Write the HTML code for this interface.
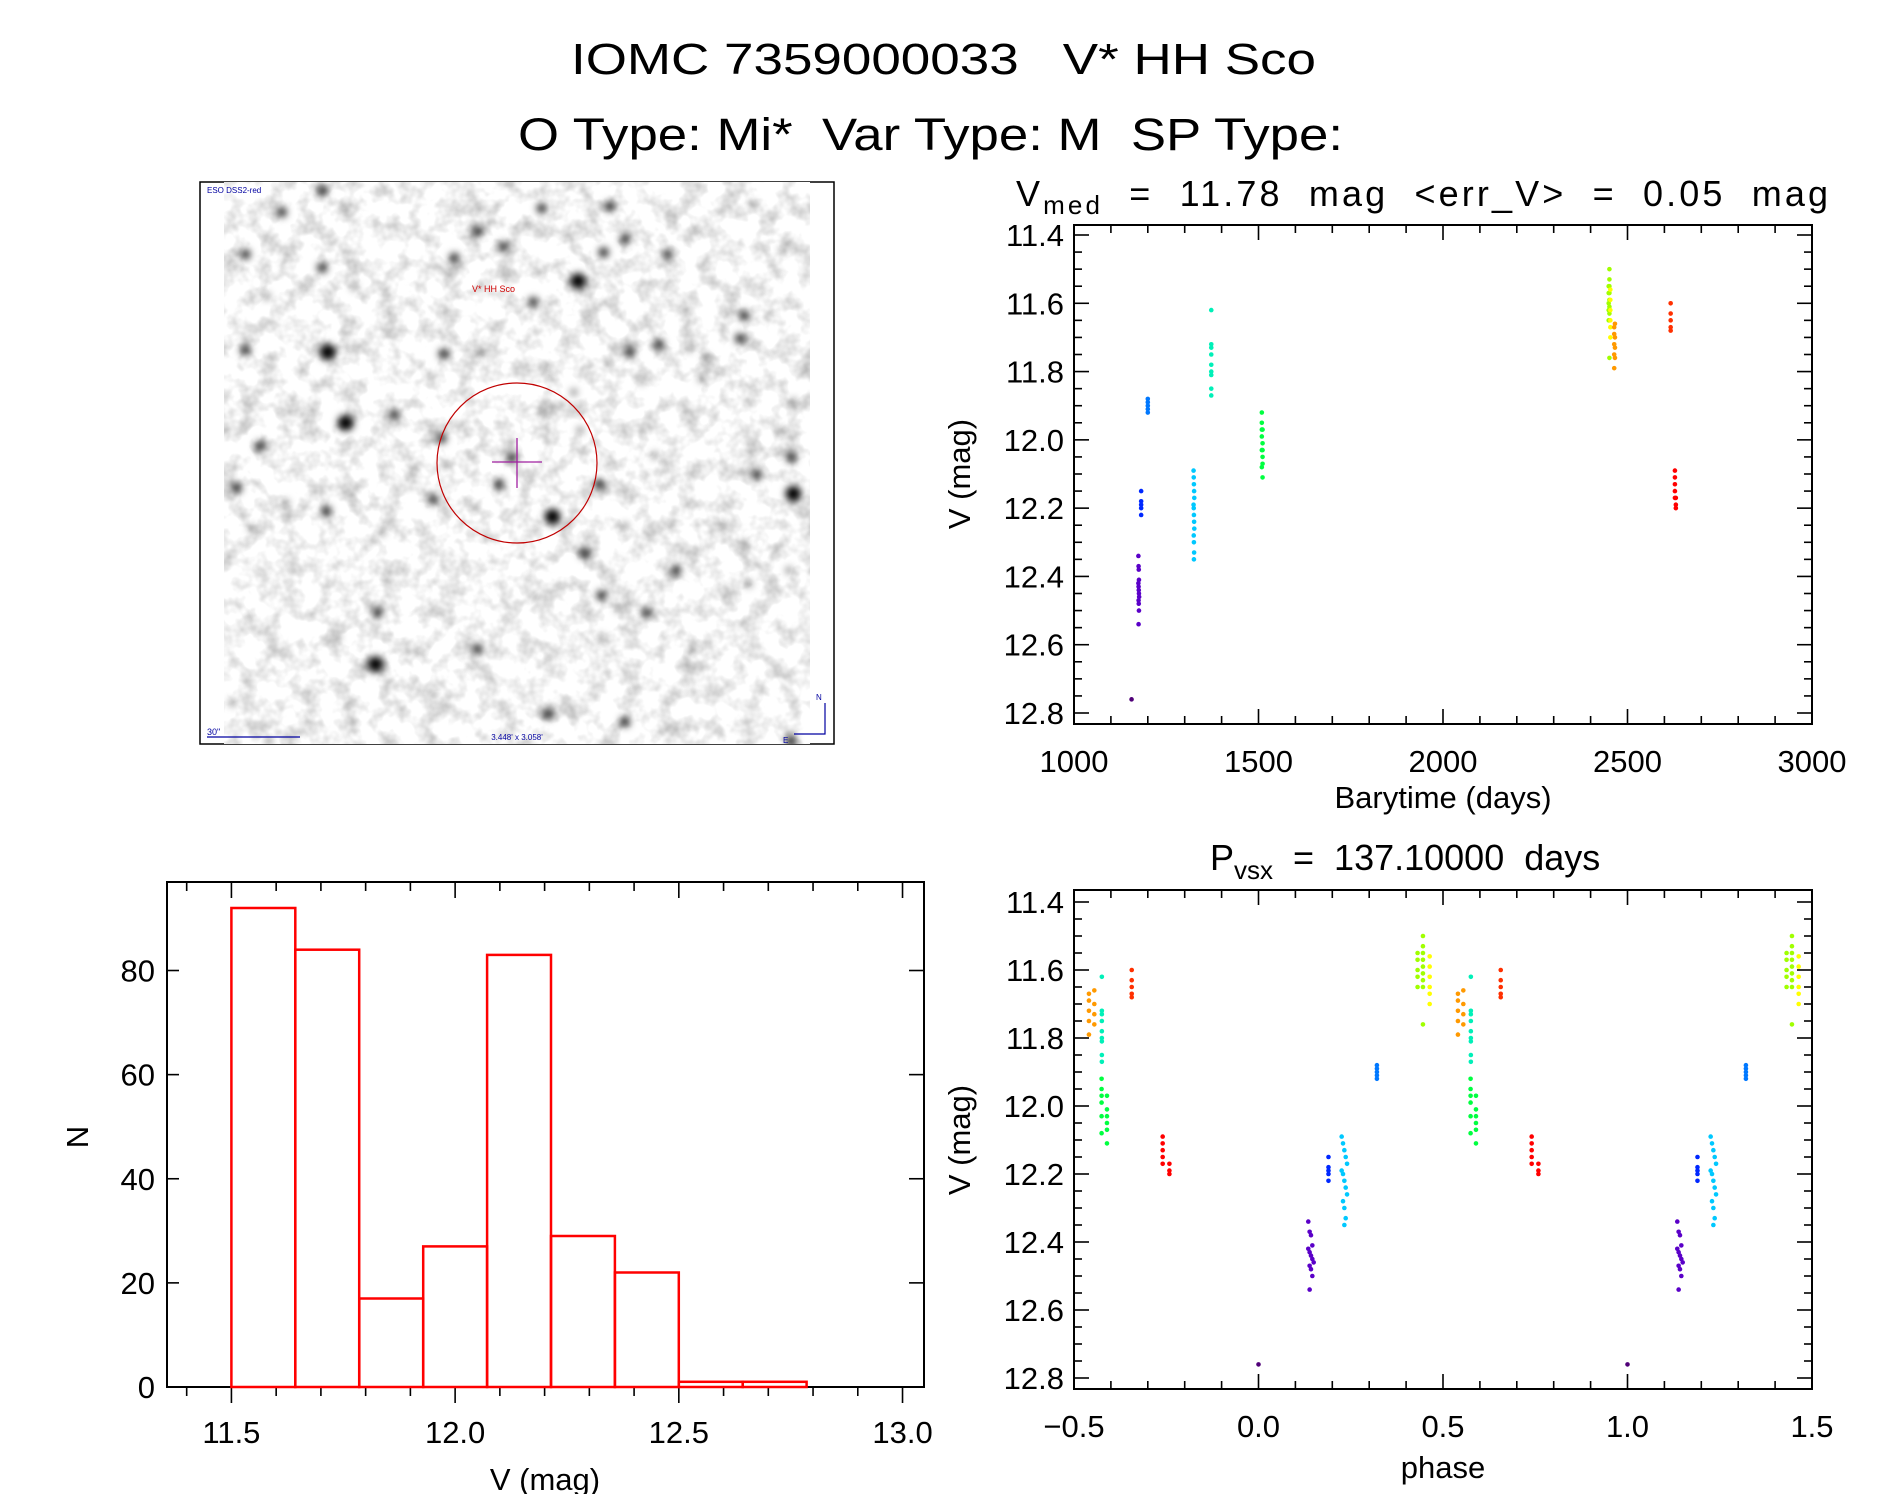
<!DOCTYPE html>
<html><head><meta charset="utf-8"><style>
html,body{margin:0;padding:0;background:#fff;}
svg{display:block;font-family:"Liberation Sans",sans-serif;}
</style></head><body>
<svg id="root" width="1889" height="1494" viewBox="0 0 1889 1494" xmlns="http://www.w3.org/2000/svg">
<defs>
<filter id="mottle" x="0" y="0" width="100%" height="100%">
<feTurbulence type="fractalNoise" baseFrequency="0.05" numOctaves="3" seed="7"/>
<feColorMatrix type="matrix" values="0 0 0 0 0.3  0 0 0 0 0.3  0 0 0 0 0.3  1.3 0 0 0 -0.55"/>
</filter>
<filter id="blur" x="-100%" y="-100%" width="300%" height="300%"><feGaussianBlur stdDeviation="3.6"/></filter>
<clipPath id="imgclip"><rect x="224" y="182" width="586" height="562"/></clipPath>
</defs>
<text x="571" y="74" font-size="44" textLength="745" lengthAdjust="spacingAndGlyphs" xml:space="preserve">IOMC 7359000033   V* HH Sco</text>
<text x="518" y="150" font-size="45" textLength="825" lengthAdjust="spacingAndGlyphs" xml:space="preserve">O Type: Mi*  Var Type: M  SP Type:</text>

<g>
<rect x="200" y="182" width="634" height="562" fill="#fff" stroke="#000" stroke-width="1.5"/>
<rect x="224" y="182" width="586" height="562" fill="#fff"/>
<rect x="224" y="182" width="586" height="562" filter="url(#mottle)"/>
<g id="stars" clip-path="url(#imgclip)"></g>
<ellipse cx="517" cy="463" rx="80" ry="80" fill="none" stroke="#c00000" stroke-width="1.2"/>
<line x1="492" y1="462" x2="542" y2="462" stroke="#a020a0" stroke-width="1.3"/>
<line x1="517" y1="438" x2="517" y2="488" stroke="#a020a0" stroke-width="1.3"/>
<text x="472" y="292" font-size="9" fill="#d00000">V* HH Sco</text>
<text x="207" y="193" font-size="8" fill="#0000a0">ESO DSS2-red</text>
<text x="207" y="735" font-size="9" fill="#0000a0">30"</text>
<line x1="207" y1="737" x2="300" y2="737" stroke="#0000a0" stroke-width="1.2"/>
<text x="517" y="740" font-size="8" fill="#0000a0" text-anchor="middle">3.448' x 3.058'</text>
<polyline points="825,703 825,734 794,734" fill="none" stroke="#0000a0" stroke-width="1.2"/>
<text x="816" y="700" font-size="8" fill="#0000a0">N</text>
<text x="783" y="743" font-size="8" fill="#0000a0">E</text>
</g>

<g id="p1"></g>
<g id="p2"></g>
<g id="p3"></g>
</svg>
<script>
// ---- data ----
const period = 137.1;
const epoch = 1156;
const seriesColors = ["#500078","#5a00c8","#0028ff","#0078ff","#00c8ff","#00f0b8","#00ff40","#a0ff00","#ffff00","#ff9900","#ff3000","#ff0000"];
const obsTime = [1156,
 1174.5,1175,1175.5,1176,1174.5,1175,1175.5,1176,1176.5,1175,1175.5,1176,1175,
 1182,1182,1182,1182,1182,
 1200,1200,1200,1200,1200,
 1324,1324.5,1325,1325.5,1326,1324,1324.5,1325,1325.5,1326,1324.5,1325,1325.5,1325,
 1372,1372,1372,1372,1372,1372,1372,1372,1372,
 1509,1509,1509,1509,1509,1509,1511,1511,1511,1511,1511,1511,
 2449,2449,2449,2449,2449,2451,2451,2451,2451,2451,2451,2451,2451,2451,
 2453.5,2453.5,2453.5,2453.5,2453.5,2453.5,
 2464,2464,2464,2464,2464,2466,2466,2466,2466,
 2617,2617,2617,2617,2617,
 2628.5,2628.5,2628.5,2628.5,2628.5,2631,2631,2631];
const obsMag = [12.76,
 12.34,12.37,12.38,12.41,12.42,12.43,12.44,12.45,12.46,12.47,12.48,12.50,12.54,
 12.15,12.18,12.19,12.20,12.22,
 11.88,11.89,11.90,11.91,11.92,
 12.09,12.11,12.13,12.15,12.17,12.19,12.20,12.22,12.24,12.26,12.28,12.30,12.33,12.35,
 11.62,11.72,11.73,11.75,11.78,11.80,11.81,11.85,11.87,
 11.92,11.95,11.97,11.99,12.03,12.08,11.97,12.01,12.03,12.05,12.07,12.11,
 11.55,11.57,11.60,11.62,11.65,11.50,11.53,11.55,11.57,11.59,11.61,11.63,11.65,11.76,
 11.56,11.59,11.62,11.65,11.67,11.70,
 11.67,11.69,11.72,11.75,11.79,11.66,11.70,11.73,11.76,
 11.60,11.63,11.65,11.67,11.68,
 12.09,12.11,12.13,12.15,12.17,12.17,12.19,12.20];
const obsColor = [0,
 1,1,1,1,1,1,1,1,1,1,1,1,1,
 2,2,2,2,2,
 3,3,3,3,3,
 4,4,4,4,4,4,4,4,4,4,4,4,4,4,
 5,5,5,5,5,5,5,5,5,
 6,6,6,6,6,6,6,6,6,6,6,6,
 7,7,7,7,7,7,7,7,7,7,7,7,7,7,
 8,8,8,8,8,8,
 9,9,9,9,9,9,9,9,9,
 10,10,10,10,10,
 11,11,11,11,11,11,11,11];
const histEdgeStart = 11.5;
const histBinWidth = 0.14286;
const histCounts = [92,84,17,27,83,29,22,1,1];
const lcYTicks = [11.4,11.6,11.8,12.0,12.2,12.4,12.6,12.8];
const lcXTicks = [1000,1500,2000,2500,3000];
const phXTicks = [-0.5,0.0,0.5,1.0,1.5];
const hiXTicks = [11.5,12.0,12.5,13.0];
const hiYTicks = [0,20,40,60,80];

const NS = "http://www.w3.org/2000/svg";
function mk(tag, attrs, parent){
  const e = document.createElementNS(NS, tag);
  for (const k in attrs) e.setAttribute(k, attrs[k]);
  parent.appendChild(e);
  return e;
}
function scale(d0,d1,r0,r1){ return v => r0 + (v-d0)/(d1-d0)*(r1-r0); }

// ---- stars in image ----
const starG = document.getElementById('stars');
const starList = [[910,290,3],[323,475,3],[850,905,3],[1415,845,3],[1330,795,2],[960,820,2],[620,230,2],[130,220,2],[310,255,2],[675,160,2],[825,100,2],[985,95,2],[1020,180,2],[970,215,2],[1120,220,2],[1390,210,1],[805,345,2],[595,480,2],[130,470,2],[365,660,3],[480,640,2],[165,720,2],[590,700,2],[755,750,2],[725,820,2],[600,770,1],[110,830,2],[570,860,2],[1100,455,2],[1030,475,2],[1170,465,1],[1290,440,2],[1210,490,1],[1060,550,1],[1200,545,1],[1300,380,2],[925,1000,2],[1020,930,1],[1140,1045,2],[1405,1045,1],[1300,975,1],[965,1110,2],[1005,1145,1],[1070,1155,2],[440,1155,2],[675,1250,2],[435,1290,3],[840,1420,2],[1020,1440,2],[965,1220,1],[1410,750,2],[1385,680,1],[1090,745,1],[810,1115,1],[145,935,1],[320,890,2],[450,945,1],[225,870,1],[1250,925,1],[1180,1250,1],[1310,1080,1],[1415,605,1],[385,305,1],[180,330,1],[900,580,1],[685,480,1],[215,110,2],[310,55,2],[1320,90,1],[1410,1490,2],[185,1490,1],[345,1220,1],[100,1390,1],[570,1370,1],[680,100,1],[735,200,2],[825,630,1],[915,680,1]];
starList.forEach(s=>{
  const c = mk('circle',{cx:(190+s[0]/2.345).toFixed(1), cy:(170+s[1]/2.61).toFixed(1), r:[0,3.5,5.2,8][s[2]], fill:'#000', 'fill-opacity':[0,0.55,0.85,1][s[2]], filter:'url(#blur)'}, starG);
  
  
});

// ---- generic axes ----
function frame(g, L,R,T,B){
  const r = mk('rect',{x:L,y:T,width:R-L,height:B-T,fill:'none',stroke:'#000','stroke-width':2},g);
  
  
}
function tickLine(g,x1,y1,x2,y2,name){
  const l = mk('line',{x1,y1,x2,y2,stroke:'#000','stroke-width':1.6},g);
  
  
}
function label(g,x,y,txt,anchor,size,name,rot){
  const t = mk('text',{x,y,'font-size':size,'text-anchor':anchor,fill:'#000'},g);
  if(rot) t.setAttribute('transform','rotate(-90 '+x+' '+y+')');
  t.textContent = txt;
  
  
  return t;
}

function lcAxes(g, L,R,T,B, sx, sy, xTicks, xMinorStep, xLabelFmt, xMin, xMax){
  frame(g,L,R,T,B);
  const n = Math.round((xMax-xMin)/xMinorStep);
  for (let i = 0; i <= n; i++){
    const v = xMin + i*xMinorStep;
    const x = sx(v);
    const isMajor = xTicks.some(t=>Math.abs(t-v)<1e-6);
    const len = isMajor?15:8;
    tickLine(g,x,B,x,B-len,'x-tick');
    tickLine(g,x,T,x,T+len,'x-tick-top');
  }
  xTicks.forEach(v=>label(g,sx(v),B+48,xLabelFmt(v),'middle',31,'x-tick-label'));
  for (let i=0;i<=28;i++){
    const v = 11.4 + i*0.05;
    const y = sy(v);
    const isMajor = i%4===0;
    const len = isMajor?15:8;
    tickLine(g,L,y,L+len,y,'y-tick');
    tickLine(g,R,y,R-len,y,'y-tick-right');
  }
  lcYTicks.forEach(v=>label(g,L-10,sy(v)+11,v.toFixed(1),'end',31,'y-tick-label'));
}

function drawPoints(g, sx, sy, phaseMode){
  for (let i=0;i<obsTime.length;i++){
    let xs;
    if (phaseMode){
      let ph = ((obsTime[i]-epoch)/period) % 1;
      if (ph<0) ph+=1;
      xs = [ph-1, ph, ph+1].filter(p=>p>=-0.5&&p<=1.5);
    } else xs = [obsTime[i]];
    xs.forEach(xv=>{
      const c = mk('circle',{cx:sx(xv).toFixed(2), cy:sy(obsMag[i]).toFixed(2), r:2.3, fill:seriesColors[obsColor[i]]},g);
      
      
    });
  }
}

// ---- Plot 1 : light curve ----
(function(){
  const g = document.getElementById('p1');
  const L=1074,R=1812,T=225,B=724;
  const sx = scale(1000,3000,L,R);
  const sy = scale(11.4,12.8,235,713);
  lcAxes(g,L,R,T,B,sx,sy,lcXTicks,100,v=>String(v),1000,3000);
  drawPoints(g,sx,sy,false);
  const t = mk('text',{x:1016,y:206,'font-size':36,fill:'#000'},g);
  t.innerHTML = 'V<tspan font-size="26" dy="8">med</tspan><tspan dy="-8" xml:space="preserve">  =  11.78  mag  &lt;err_V&gt;  =  0.05  mag</tspan>';
  t.setAttribute('textLength','812');
  
  
  label(g,1443,808,'Barytime (days)','middle',31,'x-axis-title');
  label(g,970,474,'V (mag)','middle',31,'y-axis-title',true);
})();

// ---- Plot 2 : phase ----
(function(){
  const g = document.getElementById('p2');
  const L=1074,R=1812,T=890,B=1389;
  const sx = scale(-0.5,1.5,L,R);
  const sy = scale(11.4,12.8,902,1378);
  lcAxes(g,L,R,T,B,sx,sy,phXTicks,0.1,v=>(v<0?'\u2212':'')+Math.abs(v).toFixed(1),-0.5,1.5);
  drawPoints(g,sx,sy,true);
  const t = mk('text',{x:1210,y:870,'font-size':36,fill:'#000'},g);
  t.innerHTML = 'P<tspan font-size="26" dy="9">vsx</tspan><tspan dy="-9" xml:space="preserve">  =  137.10000  days</tspan>';
  
  
  label(g,1443,1478,'phase','middle',31,'x-axis-title');
  label(g,970,1140,'V (mag)','middle',31,'y-axis-title',true);
})();

// ---- Plot 3 : histogram ----
(function(){
  const g = document.getElementById('p3');
  const L=167,R=924,T=882,B=1387;
  const sx = scale(11.356,13.048,L,R);
  const sy = scale(0,97,B,T);
  frame(g,L,R,T,B);
  for (let i=0;i<=16;i++){
    const v = 11.4 + i*0.1;
    const x = sx(v);
    const isMajor = hiXTicks.some(t=>Math.abs(t-v)<1e-6);
    tickLine(g,x,B,x,B+(isMajor?16:9),'x-tick');
    tickLine(g,x,T,x,T+(isMajor?16:9),'x-tick-top');
  }
  hiXTicks.forEach(v=>label(g,sx(v),B+56,v.toFixed(1),'middle',31,'x-tick-label'));
  hiYTicks.forEach(v=>{
    const y = sy(v);
    tickLine(g,L,y,L+12,y,'y-tick');
    tickLine(g,R,y,R-15,y,'y-tick-right');
    label(g,L-12,y+11,String(v),'end',31,'y-tick-label');
  });
  histCounts.forEach((c,i)=>{
    const x0 = sx(histEdgeStart + i*histBinWidth), x1 = sx(histEdgeStart + (i+1)*histBinWidth);
    const r = mk('rect',{x:x0.toFixed(1),y:sy(c).toFixed(1),width:(x1-x0).toFixed(1),height:(B-sy(c)).toFixed(1),fill:'none',stroke:'#ff0000','stroke-width':2.5},g);
    
    
  });
  label(g,545,1490,'V (mag)','middle',31,'x-axis-title');
  label(g,88,1137,'N','middle',31,'y-axis-title',true);
})();
</script>
</body></html>
